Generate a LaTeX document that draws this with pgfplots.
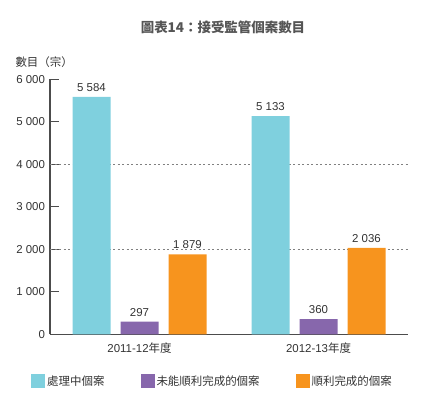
\documentclass[border=0pt]{standalone}
\usepackage{pgfplots}
\pgfplotsset{compat=1.18}
\usepackage{fontspec}
\setmainfont{Liberation Sans}
\newfontfamily\cjk{Noto Sans CJK TC}
\definecolor{cyanbar}{HTML}{7FD0DE}
\definecolor{purplebar}{HTML}{8767AC}
\definecolor{orangebar}{HTML}{F7941E}
\definecolor{txt}{HTML}{333333}
\definecolor{ttl}{HTML}{555555}
\begin{document}
\begin{tikzpicture}
\useasboundingbox (-50bp,-79.7bp) rectangle (398bp,334.3bp);
\begin{axis}[
  at={(0,0)}, anchor=south west,
  scale only axis, width=358bp, height=255bp,
  xmin=-0.5, xmax=1.5, ymin=0, ymax=6000,
  axis x line*=bottom, axis y line*=left,
  axis line style={draw=black!70, line width=1.1bp, -},
  ybar=10bp, bar width=38bp,
  xtick={0,1}, xticklabels={{2011-12{\cjk 年度}},{2012-13{\cjk 年度}}},
  xtick style={draw=none},
  xticklabel style={yshift=-4.5bp},
  ytick={0,1000,...,6000},
  ytick style={draw=black!70, line width=1bp},
  tick align=inside, major tick length=9bp,
  extra y ticks={2000,4000}, extra y tick labels={},
  extra y tick style={grid=major, major tick length=0pt},
  grid style={draw=black!50, dash pattern=on 2bp off 2.5bp, line width=0.5bp},
  tick label style={font=\fontsize{11.5}{12}\selectfont, text=txt},
  yticklabel style={xshift=-1.5bp},
  nodes near coords,
  nodes near coords style={font=\fontsize{11.5}{12}\selectfont, text=txt, yshift=2bp},
  /pgf/number format/1000 sep={\ },
  /pgf/number format/assume math mode=true,
  legend columns=3,
  legend style={at={(-0.053,-0.183)}, anchor=west, draw=none, fill=none, inner sep=0pt,
    font=\cjk\fontsize{11.5}{12}\selectfont, text=txt,
    nodes={inner sep=2bp},
    /tikz/every even column/.style={column sep=34bp}},
  legend cell align=left,
  legend image code/.code={\fill[#1,draw=none] (0bp,-7bp) rectangle (14bp,7bp);},
]
\addplot[fill=cyanbar, draw=none] coordinates {(0,5584) (1,5133)};
\addplot[fill=purplebar, draw=none] coordinates {(0,297) (1,360)};
\addplot[fill=orangebar, draw=none] coordinates {(0,1879) (1,2036)};
\legend{處理中個案,未能順利完成的個案,順利完成的個案}
\end{axis}
\node[anchor=west, font=\cjk\fontsize{11.5}{12}\selectfont, text=txt] at (-38bp,272bp) {數目（宗）};
\node[font=\cjk\bfseries\fontsize{13.5}{14}\selectfont, text=ttl] at (173bp,306.8bp) {圖表14：接受監管個案數目};
\end{tikzpicture}
\end{document}
